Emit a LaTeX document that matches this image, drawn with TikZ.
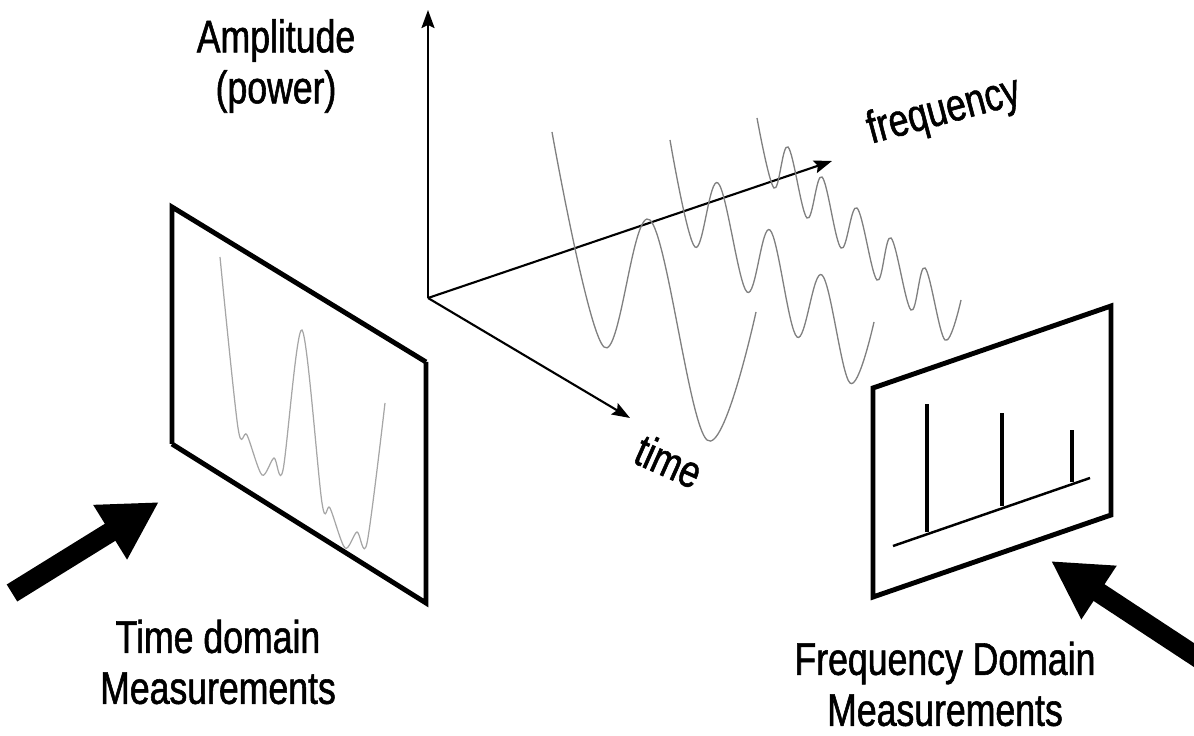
\documentclass[tikz,border=0pt]{standalone}
\usepackage{fontspec}
\setmainfont{Liberation Sans}[FakeStretch=0.78, FakeBold=1.2]
\usetikzlibrary{arrows.meta, positioning}

\begin{document}
\begin{tikzpicture}[
    x=0.02cm, y=-0.02cm,
    every node/.style={font=\fontsize{26}{29}\selectfont},
    lbl/.style={align=center, inner sep=0pt},
    axis/.style={line width=1.2pt, -{Stealth[length=3.6mm, width=2.6mm, inset=0.6mm]}},
    panel/.style={line width=2.8pt, line join=miter},
    wave/.style={black!50, line width=0.75pt},
    trace/.style={black!35, line width=0.7pt},
    bar/.style={line width=2.4pt},
    bigarr/.style={line width=0.4cm, -{Triangle[length=1.15cm, width=1.2cm]}}
]
    \useasboundingbox (0,0) rectangle (1194,736);

    % axes
    \coordinate (O) at (428, 298);
    \coordinate (ampTip) at (428, 10);
    \coordinate (freqTip) at (832, 161);
    \coordinate (timeTip) at (630, 418);
    \draw[axis] (O) -- (ampTip);
    \draw[axis] (O) -- (freqTip);
    \draw[axis] (O) -- (timeTip);

    \node[lbl] (amp) at (276, 66) {Amplitude\\(power)};
    \node[lbl, rotate=15] (freq) at (944, 112) {frequency};
    \node[lbl, rotate=-24] (time) at (669, 461) {time};

    % signal components
    \draw[wave] plot[smooth, tension=0.6] coordinates {(552,132) (604,347) (650,220) (707,440) (756,312)};
    \draw[wave] plot[smooth, tension=0.6] coordinates {(670,140) (695,247) (718,183) (747,292) (770,230)
        (797,337) (822,275) (850,383) (874,322)};
    \draw[wave] plot[smooth, tension=0.6] coordinates {(757,118) (774,188) (788,147) (807,218) (822,177)
        (841,248) (857,208) (877,280) (891,238) (911,310) (925,268) (945,340) (961,300)};

    % time domain panel
    \coordinate (tTL) at (172, 207);
    \coordinate (tTR) at (426, 362);
    \coordinate (tBR) at (426, 603);
    \coordinate (tBL) at (172, 444);
    \draw[panel] (tBL) -- (tTL) -- (tTR);
    \draw[panel] (tBL) -- (tBR) -- (tTR);
    \draw[trace] plot[smooth, tension=0.5] coordinates {(220,257) (238,428) (247,435) (262,475) (274,458)
        (283,470) (302,330) (322,503) (330,508) (345,548) (357,532) (367,543) (385,403)};

    % frequency domain panel
    \coordinate (fTL) at (873, 388);
    \coordinate (fTR) at (1111, 306);
    \coordinate (fBR) at (1111, 515);
    \coordinate (fBL) at (873, 597);
    \draw[panel] (fTL) -- (fTR) -- (fBR) -- (fBL) -- cycle;
    \coordinate (baseL) at (893, 546);
    \coordinate (baseR) at (1090, 478);
    \draw[line width=1.4pt] (baseL) -- (baseR);
    \draw[bar] (927, 532) -- (927, 404);
    \draw[bar] (1002, 506) -- (1002, 413);
    \draw[bar] (1072, 482) -- (1072, 430);

    % pointers
    \coordinate (tailL) at (12, 593);
    \coordinate (headL) at (159, 502);
    \coordinate (tailR) at (1200, 659);
    \coordinate (headR) at (1051, 561);
    \draw[bigarr] (tailL) -- (headL);
    \draw[bigarr] (tailR) -- (headR);

    \node[lbl] (tdm) at (218, 662) {Time domain\\Measurements};
    \node[lbl] (fdm) at (945, 684) {Frequency Domain\\Measurements};
\end{tikzpicture}
\end{document}
